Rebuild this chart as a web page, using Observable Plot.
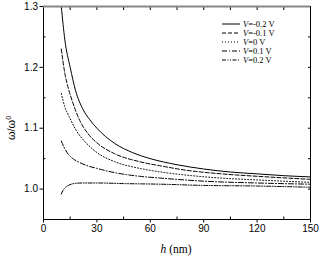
<!DOCTYPE html>
<html><head><meta charset="utf-8">
<script src="https://cdn.jsdelivr.net/npm/d3@7"></script>
<script src="https://cdn.jsdelivr.net/npm/@observablehq/plot@0.6"></script>
<style>body{margin:0;background:#fff}</style>
</head><body><div id="chart"></div>
<script>
const seriesNames = ["V=-0.2 V","V=-0.1 V","V=0 V","V=0.1 V","V=0.2 V"];
const hM02 = [10,12,15,18,22,26,30,40,50,60,75,90,105,120,135,150];
const vM02 = [1.30,1.245,1.20,1.162,1.132,1.114,1.10,1.075,1.06,1.05,1.04,1.033,1.028,1.025,1.022,1.020];
const hM01 = [10,12,14,16,20,25,30,40,54,66,80,100,120,150];
const vM01 = [1.23,1.19,1.165,1.146,1.115,1.091,1.076,1.058,1.045,1.038,1.031,1.025,1.021,1.016];
const h00 = [10,12,14.6,18,22,26,30,40,54,66,80,100,120,150];
const v00 = [1.157,1.135,1.118,1.098,1.082,1.07,1.06,1.045,1.034,1.028,1.023,1.018,1.015,1.011];
const hP01 = [10,12,14,17,20,25,30,40,54,66,90,120,150];
const vP01 = [1.079,1.066,1.057,1.049,1.044,1.038,1.034,1.027,1.021,1.018,1.013,1.010,1.008];
const hP02 = [10,11,12,14,17,22,30,45,66,90,120,150];
const vP02 = [0.992,0.998,1.002,1.006,1.009,1.010,1.010,1.009,1.008,1.006,1.005,1.003];
const dashes = [null,"4,2","1,2","5,2,1,2","4,1.5,1,1.5,1,1.5"];
const xMajor = [0,30,60,90,120,150];
const xMinor = [15,45,75,105,135];
const yMajor = [1.0,1.1,1.2,1.3];
const yMinor = [1.05,1.15,1.25];
const xDomain = [0,150];
const yDomain = [0.95,1.3];

const hs = [hM02,hM01,h00,hP01,hP02];
const vs = [vM02,vM01,v00,vP01,vP02];
const rows = seriesNames.map((name,i)=>hs[i].map((h,j)=>({name,h,v:vs[i][j]})));

const W=319,H=257,ML=43,MR=9,MT=6,MB=38;
const font="'Liberation Sans', Arial, sans-serif";
const serif="'Liberation Serif', 'Times New Roman', serif";
const blank = () => "";
const plot = Plot.plot({
  width: W, height: H,
  marginLeft: ML, marginRight: MR, marginTop: MT, marginBottom: MB,
  style: {fontFamily: font, fontSize: "10px", background: "#fff", color: "#000"},
  x: {domain: xDomain, label: null},
  y: {domain: yDomain, label: null},
  marks: [
    ...rows.map((r,i)=>Plot.line(r,{x:"h",y:"v",stroke:"#000",strokeWidth:1,strokeDasharray:dashes[i],curve:"monotone-x"})),
    Plot.axisX({ticks: xMajor, tickSize: 3.5, tickPadding: 2, tickFormat: d=>String(d), fontSize: 10, stroke:"#000", label: null}),
    Plot.axisX({ticks: xMinor, tickSize: -2.5, tickFormat: blank, stroke:"#000", label: null}),
    Plot.axisX({anchor:"top", ticks: xMinor.concat(xMajor), tickSize: -3, tickFormat: blank, stroke:"#000", label: null}),
    Plot.axisY({ticks: yMajor, tickSize: 3.5, tickPadding: 2, tickFormat: d3.format(".1f"), fontSize: 10, stroke:"#000", label: null}),
    Plot.axisY({ticks: yMinor, tickSize: -2.5, tickFormat: blank, stroke:"#000", label: null}),
    Plot.axisY({anchor:"right", ticks: yMinor.concat(yMajor), tickSize: -3, tickFormat: blank, stroke:"#000", label: null}),
    Plot.frame({stroke:"#000", strokeWidth:1}),
    Plot.ruleY([yDomain[1]],{stroke:"#888",strokeWidth:2})
  ]
});
document.getElementById("chart").appendChild(plot);

const svg = d3.select(plot);
// legend
const lg = svg.append("g").attr("style",`font-family:${serif};font-size:8.5px`).attr("text-anchor","start");
seriesNames.forEach((name,i)=>{
  const y = 24 + i*9;
  lg.append("line").attr("x1",222).attr("x2",240).attr("y1",y).attr("y2",y)
    .attr("stroke","#000").attr("stroke-width",1).attr("stroke-dasharray",dashes[i]);
  const t = lg.append("text").attr("x",243).attr("y",y).attr("dy","0.32em").attr("text-anchor","start");
  t.append("tspan").attr("font-style","italic").text(name[0]);
  t.append("tspan").text(name.slice(1));
});
// x label
const xl = svg.append("text").attr("x",176).attr("y",253).attr("text-anchor","middle")
  .attr("style",`font-family:${serif};font-size:11.5px`);
xl.append("tspan").attr("font-style","italic").text("h");
xl.append("tspan").text(" (nm)");
// y label
const yl = svg.append("text").attr("transform","translate(15,128) rotate(-90)").attr("text-anchor","middle")
  .attr("style",`font-family:${font};font-size:11px`);
yl.append("tspan").text("ω/ω");
yl.append("tspan").attr("font-size","7px").attr("dy","-4").text("0");
</script></body></html>
